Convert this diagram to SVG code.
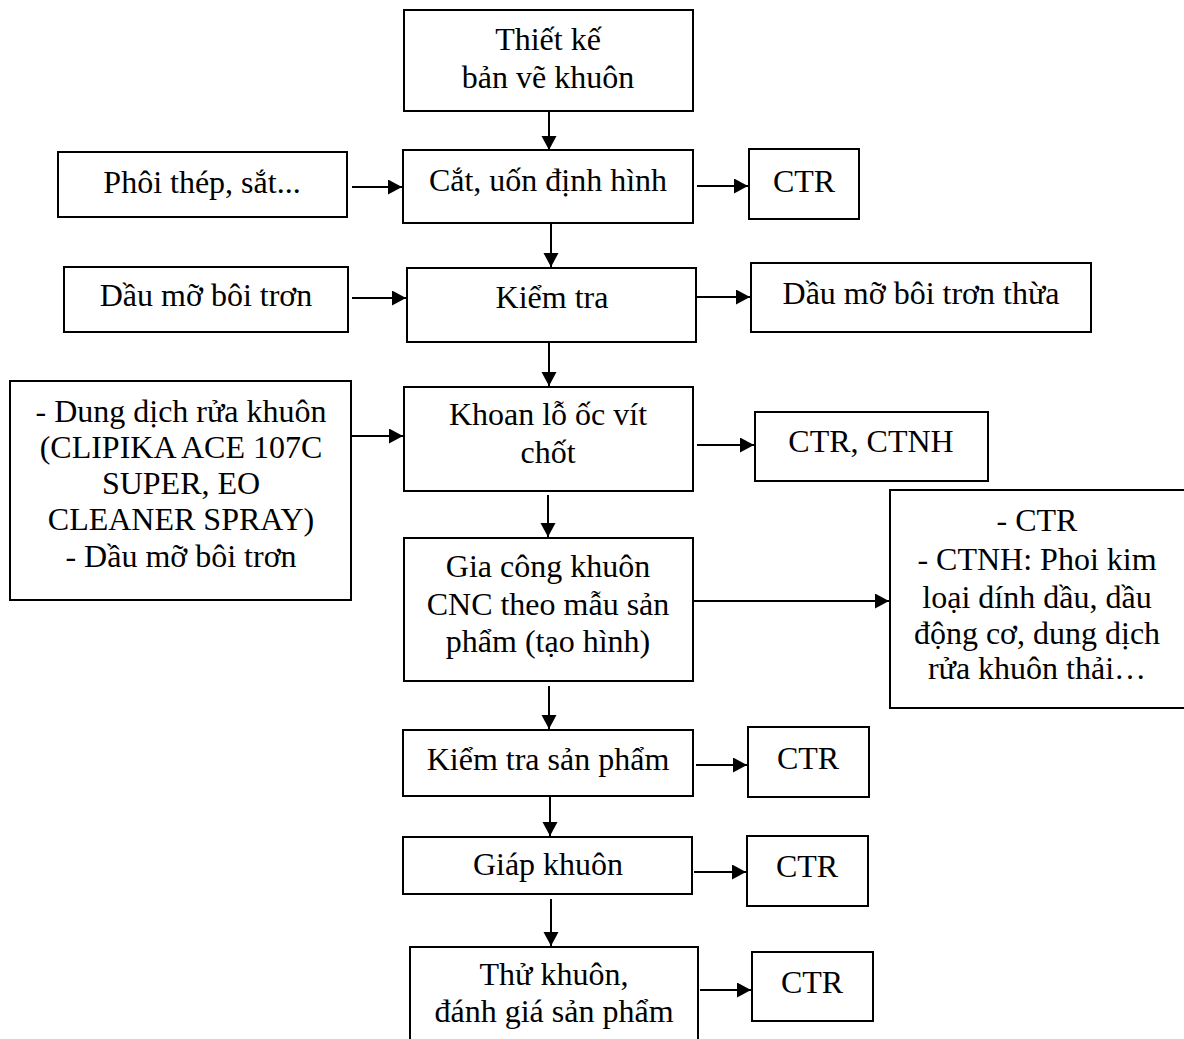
<svg xmlns="http://www.w3.org/2000/svg" width="1184" height="1039" viewBox="0 0 1184 1039">
  <style>
    .box { fill: #fff; stroke: #000; stroke-width: 2; }
    .lbl { font-family: "Liberation Serif", "Times New Roman", serif; font-size: 32px; fill: #000; text-anchor: middle; }
    .conn { stroke: #000; stroke-width: 2; fill: none; marker-end: url(#arrow); }
  </style>
  <defs>
    <marker id="arrow" markerUnits="userSpaceOnUse" markerWidth="16" markerHeight="16" refX="14" refY="7.5" orient="auto">
      <path d="M0,0 L14,7.5 L0,15 z" fill="#000"/>
    </marker>
  </defs>
  <rect width="1184" height="1039" fill="#fff"/>

  <!-- main process column -->
  <g id="thiet-ke">
    <rect class="box" x="404" y="10" width="289" height="101"/>
    <text class="lbl" x="548" y="50">Thiết kế</text>
    <text class="lbl" x="548" y="88">bản vẽ khuôn</text>
  </g>
  <g id="cat-uon">
    <rect class="box" x="403" y="150" width="290" height="73"/>
    <text class="lbl" x="548" y="191">Cắt, uốn định hình</text>
  </g>
  <g id="kiem-tra">
    <rect class="box" x="407" y="268" width="289" height="74"/>
    <text class="lbl" x="552" y="308">Kiểm tra</text>
  </g>
  <g id="khoan">
    <rect class="box" x="404" y="387" width="289" height="104"/>
    <text class="lbl" x="548" y="425">Khoan lỗ ốc vít</text>
    <text class="lbl" x="548" y="463">chốt</text>
  </g>
  <g id="gia-cong">
    <rect class="box" x="404" y="538" width="289" height="143"/>
    <text class="lbl" x="548" y="577">Gia công khuôn</text>
    <text class="lbl" x="548" y="615">CNC theo mẫu sản</text>
    <text class="lbl" x="548" y="652">phẩm (tạo hình)</text>
  </g>
  <g id="kiem-tra-sp">
    <rect class="box" x="403" y="730" width="290" height="66"/>
    <text class="lbl" x="548" y="770">Kiểm tra sản phẩm</text>
  </g>
  <g id="giap-khuon">
    <rect class="box" x="403" y="837" width="289" height="57"/>
    <text class="lbl" x="548" y="875">Giáp khuôn</text>
  </g>
  <g id="thu-khuon">
    <rect class="box" x="410" y="947" width="288" height="100"/>
    <text class="lbl" x="554" y="985">Thử khuôn,</text>
    <text class="lbl" x="554" y="1022">đánh giá sản phẩm</text>
  </g>

  <!-- inputs -->
  <g id="phoi-thep">
    <rect class="box" x="58" y="152" width="289" height="65"/>
    <text class="lbl" x="202" y="193">Phôi thép, sắt...</text>
  </g>
  <g id="dau-mo">
    <rect class="box" x="64" y="267" width="284" height="65"/>
    <text class="lbl" x="206" y="306">Dầu mỡ bôi trơn</text>
  </g>
  <g id="dung-dich">
    <rect class="box" x="10" y="381" width="341" height="219"/>
    <text class="lbl" x="181" y="422">- Dung dịch rửa khuôn</text>
    <text class="lbl" x="181" y="458">(CLIPIKA ACE 107C</text>
    <text class="lbl" x="181" y="494">SUPER, EO</text>
    <text class="lbl" x="181" y="530">CLEANER SPRAY)</text>
    <text class="lbl" x="181" y="567">- Dầu mỡ bôi trơn</text>
  </g>

  <!-- outputs -->
  <g id="ctr-1">
    <rect class="box" x="749" y="149" width="110" height="70"/>
    <text class="lbl" x="804" y="192">CTR</text>
  </g>
  <g id="dau-mo-thua">
    <rect class="box" x="751" y="263" width="340" height="69"/>
    <text class="lbl" x="921" y="304">Dầu mỡ bôi trơn thừa</text>
  </g>
  <g id="ctr-ctnh">
    <rect class="box" x="755" y="412" width="233" height="69"/>
    <text class="lbl" x="871" y="452">CTR, CTNH</text>
  </g>
  <g id="ctr-ctnh-chi-tiet">
    <rect class="box" x="890" y="490" width="300" height="218"/>
    <text class="lbl" x="1037" y="531">- CTR</text>
    <text class="lbl" x="1037" y="570">- CTNH: Phoi kim</text>
    <text class="lbl" x="1037" y="608">loại dính dầu, dầu</text>
    <text class="lbl" x="1037" y="644">động cơ, dung dịch</text>
    <text class="lbl" x="1037" y="679">rửa khuôn thải…</text>
  </g>
  <g id="ctr-2">
    <rect class="box" x="748" y="727" width="121" height="70"/>
    <text class="lbl" x="808" y="769">CTR</text>
  </g>
  <g id="ctr-3">
    <rect class="box" x="747" y="836" width="121" height="70"/>
    <text class="lbl" x="807" y="877">CTR</text>
  </g>
  <g id="ctr-4">
    <rect class="box" x="752" y="952" width="121" height="69"/>
    <text class="lbl" x="812" y="993">CTR</text>
  </g>

  <!-- connectors -->
  <g id="connectors">
    <line class="conn" x1="549" y1="111" x2="549" y2="150"/>
    <line class="conn" x1="551" y1="223" x2="551" y2="267"/>
    <line class="conn" x1="549" y1="343" x2="549" y2="386"/>
    <line class="conn" x1="548" y1="495" x2="548" y2="537"/>
    <line class="conn" x1="549" y1="686" x2="549" y2="729"/>
    <line class="conn" x1="550" y1="796" x2="550" y2="836"/>
    <line class="conn" x1="551" y1="899" x2="551" y2="946"/>

    <line class="conn" x1="352" y1="187" x2="402" y2="187"/>
    <line class="conn" x1="352" y1="298" x2="406" y2="298"/>
    <line class="conn" x1="352" y1="436" x2="403" y2="436"/>

    <line class="conn" x1="697" y1="186" x2="748" y2="186"/>
    <line class="conn" x1="697" y1="297" x2="750" y2="297"/>
    <line class="conn" x1="697" y1="445" x2="754" y2="445"/>
    <line class="conn" x1="694" y1="601" x2="889" y2="601"/>
    <line class="conn" x1="696" y1="765" x2="747" y2="765"/>
    <line class="conn" x1="694" y1="872" x2="746" y2="872"/>
    <line class="conn" x1="700" y1="990" x2="751" y2="990"/>
  </g>
</svg>
